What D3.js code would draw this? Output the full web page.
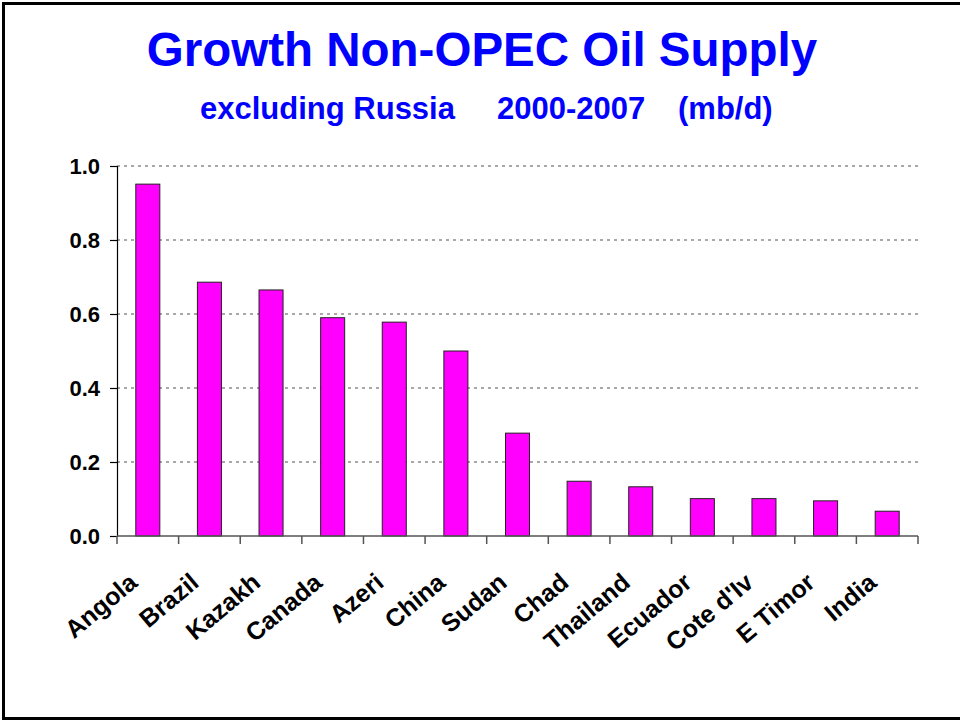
<!DOCTYPE html>
<html>
<head>
<meta charset="utf-8">
<script src="https://cdn.jsdelivr.net/npm/d3@7"></script>
<style>
  body { margin: 0; background: #fff; }
  svg { display: block; font-family: "Liberation Sans", Arial, sans-serif; }
</style>
</head>
<body>
<svg id="chart" width="960" height="721"></svg>
<script>
// chart data
const countries = ["Angola", "Brazil", "Kazakh", "Canada", "Azeri", "China", "Sudan",
                   "Chad", "Thailand", "Ecuador", "Cote d'Iv", "E Timor", "India"];
const growth = [0.951, 0.686, 0.665, 0.590, 0.578, 0.500, 0.278,
                0.148, 0.133, 0.101, 0.101, 0.095, 0.067];
const yTicks = [0, 0.2, 0.4, 0.6, 0.8, 1.0];
const subtitleParts = ["excluding Russia", "2000-2007", "(mb/d)"];

const svg = d3.select("#chart");

// slide frame (open on the right side)
svg.append("path")
    .attr("d", "M960,3.5 H3.5 V718.5 H960")
    .attr("fill", "none")
    .attr("stroke", "#000")
    .attr("stroke-width", 3);

// titles
svg.append("text")
    .attr("x", 482).attr("y", 66)
    .attr("text-anchor", "middle")
    .attr("font-size", 47.5).attr("font-weight", "bold")
    .attr("fill", "#0000ff")
    .text("Growth Non-OPEC Oil Supply");

const subX = [200, 497, 678];
svg.selectAll(".subtitle")
    .data(subtitleParts)
    .enter()
    .append("text")
    .attr("class", "subtitle")
    .attr("x", (d, i) => subX[i]).attr("y", 119)
    .attr("font-size", 31).attr("font-weight", "bold")
    .attr("fill", "#0000ff")
    .text(d => d);

const margin = { left: 117, right: 42, top: 166, bottom: 185 };
const width = 960 - margin.left - margin.right;
const height = 721 - margin.top - margin.bottom;

const chart = svg.append("g")
    .attr("transform", `translate(${margin.left},${margin.top})`);

const x = d3.scaleBand()
    .domain(countries)
    .range([0, width])
    .paddingInner(0.61)
    .paddingOuter(0.305);

const y = d3.scaleLinear()
    .domain([0, 1])
    .range([height, 0]);

// dotted gridlines
chart.append("g")
    .selectAll("line")
    .data(yTicks.filter(d => d > 0))
    .enter()
    .append("line")
    .attr("x1", 0)
    .attr("x2", width)
    .attr("y1", d => y(d))
    .attr("y2", d => y(d))
    .attr("stroke", "#8c8c8c")
    .attr("stroke-width", 1.5)
    .attr("stroke-dasharray", "3,4");

// bars
chart.selectAll(".bar")
    .data(countries)
    .enter()
    .append("rect")
    .attr("class", "bar")
    .attr("x", d => x(d))
    .attr("y", (d, i) => y(growth[i]))
    .attr("width", x.bandwidth())
    .attr("height", (d, i) => height - y(growth[i]))
    .attr("fill", "#ff00ff")
    .attr("stroke", "#222")
    .attr("stroke-width", 1);

// y axis
const yAxis = chart.append("g")
    .call(d3.axisLeft(y).tickValues(yTicks).tickFormat(d3.format(".1f")).tickSize(7).tickPadding(10));
yAxis.attr("font-family", null).attr("font-size", null);
yAxis.select(".domain").attr("stroke", "#000").attr("stroke-width", 1.2);
yAxis.selectAll(".tick line").attr("stroke", "#000").attr("stroke-width", 1.2);
yAxis.selectAll(".tick text")
    .attr("font-size", 22).attr("font-weight", "bold")
    .attr("fill", "#000");

// x axis: ticks at band boundaries
const step = x.step();
const boundaries = d3.range(countries.length + 1).map(i => i * step);
const xAxis = chart.append("g")
    .attr("transform", `translate(0,${height})`);
xAxis.append("line")
    .attr("x1", 0).attr("x2", width)
    .attr("stroke", "#555").attr("stroke-width", 1.5);
xAxis.selectAll(".xtick")
    .data(boundaries)
    .enter()
    .append("line")
    .attr("class", "xtick")
    .attr("x1", d => d).attr("x2", d => d)
    .attr("y1", 0).attr("y2", 8)
    .attr("stroke", "#555").attr("stroke-width", 1.5);

xAxis.selectAll(".xlabel")
    .data(countries)
    .enter()
    .append("text")
    .attr("class", "xlabel")
    .attr("transform", d => `translate(${x(d) + x.bandwidth() / 2 - 9},49) rotate(-40)`)
    .attr("text-anchor", "end")
    .attr("font-size", 25).attr("font-weight", "bold")
    .attr("fill", "#000")
    .text(d => d);
</script>
</body>
</html>
